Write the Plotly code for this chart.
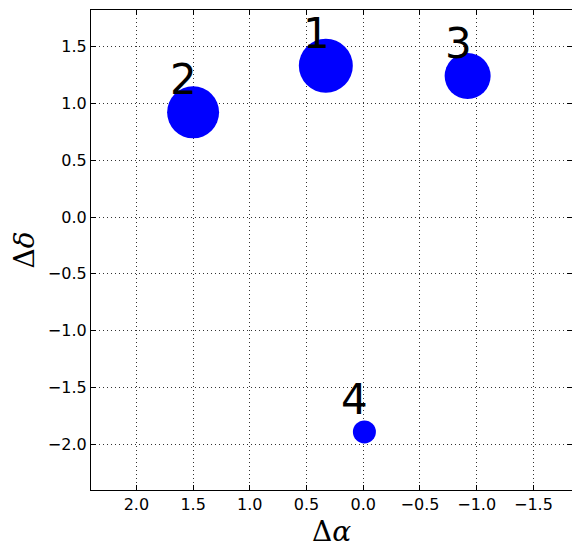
import plotly.graph_objects as go

# source positions (offsets) and relative sizes
labels = ["1", "2", "3", "4"]
d_alpha = [0.33, 1.50, -0.92, -0.01]
d_delta = [1.33, 0.92, 1.24, -1.89]
sizes = [54, 52, 46, 23]

x_ticks = [2.0, 1.5, 1.0, 0.5, 0.0, -0.5, -1.0, -1.5]
y_ticks = [1.5, 1.0, 0.5, 0.0, -0.5, -1.0, -1.5, -2.0]

fig = go.Figure()
fig.add_trace(go.Scatter(
    x=d_alpha, y=d_delta, mode="markers",
    marker=dict(size=sizes, color="#0000ff", opacity=1, line=dict(width=0)),
    showlegend=False, hoverinfo="skip",
))

for lab, xa, yd in zip(labels, d_alpha, d_delta):
    fig.add_annotation(
        x=xa, y=yd, xref="x", yref="y", text=lab, showarrow=False,
        xanchor="left", yanchor="bottom", xshift=-25, yshift=6,
        font=dict(family="DejaVu Sans", size=42, color="black"),
    )

axis_style = dict(
    showline=True, linecolor="black", linewidth=1.2, mirror="ticks",
    ticks="inside", ticklen=5, tickcolor="black", tickwidth=1,
    showgrid=True, gridcolor="#333333", griddash="1px,3px", gridwidth=1,
    zeroline=False, automargin=False,
    tickfont=dict(family="DejaVu Sans", size=16, color="black"),
)

fig.update_xaxes(
    range=[2.40, -1.84], tickvals=x_ticks, tickformat=".1f",
    title=dict(text="Δ<i>α</i>", font=dict(family="DejaVu Serif", size=28, color="black"), standoff=8),
    **axis_style,
)
fig.update_yaxes(
    range=[-2.40, 1.82], tickvals=y_ticks, tickformat=".1f",
    title=dict(text="Δ<i>δ</i>", font=dict(family="DejaVu Serif", size=28, color="black"), standoff=8),
    **axis_style,
)

# page body adds an 8px offset, so the figure is drawn 8px smaller
fig.update_layout(
    width=572, height=550,
    margin=dict(l=83, r=8, t=2, b=68, autoexpand=False),
    plot_bgcolor="white", paper_bgcolor="white",
)

fig.write_html("out.html")
